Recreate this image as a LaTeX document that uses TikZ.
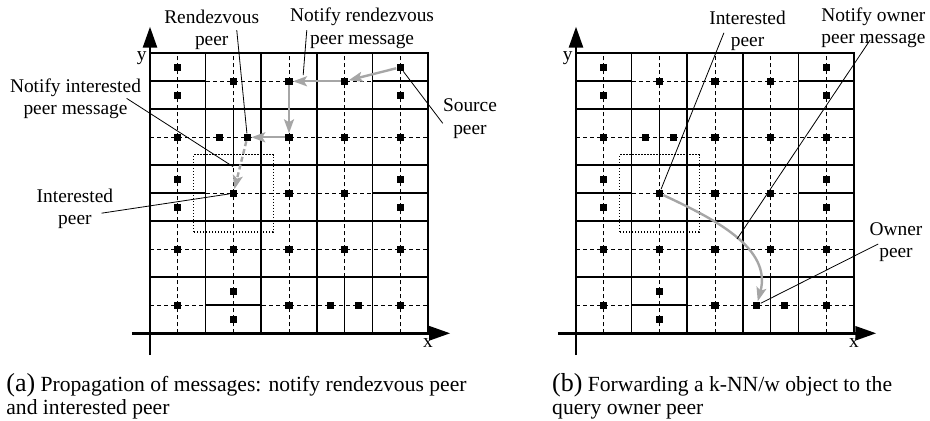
\documentclass[tikz,border=0pt]{standalone}
\usepackage{fontspec}
\setmainfont{Liberation Serif}
\usetikzlibrary{arrows.meta}

% one CAN-like key space: zones, midlines, query window, axes and peers
% #1 = prefix for the peer names
\newcommand{\zonegrid}[1]{%
  % midlines through every zone
  \foreach \m in {1,3,...,9} {
    \draw[midline] (\m,0) -- (\m,10);
    \draw[midline] (0,\m) -- (10,\m);
  }
  % zone borders
  \draw[zone] (0,10) -- (10,10) -- (10,0);
  \foreach \m in {2,4,6,8} {
    \draw[zone] (\m,0) -- (\m,10);
    \draw[zone] (0,\m) -- (10,\m);
  }
  % zones that were split in two
  \draw[zone] (0,9) -- (2,9) (8,9) -- (10,9) (3,6) -- (3,8)
    (0,5) -- (2,5) (8,5) -- (10,5) (2,1) -- (4,1) (7,0) -- (7,2);
  % query window
  \draw[window] (1.57,3.62) rectangle (4.43,6.38);
  % axes
  \draw[axis] (0,-0.78) -- (0,10.95);
  \draw[axis] (-0.65,0) -- (10.8,0);
  \node[anchor=base] (#1ylbl) at (-0.3,9.73) {y};
  \node[anchor=base] (#1xlbl) at (10,-0.5) {x};
  % peers, one per zone
  \foreach \n/\x/\y in {a1/1/9.5, a2/1/8.5, a3/3/9, a4/5/9, a5/7/9, a6/9/9.5, a7/9/8.5,
      b1/1/7, b2/2.5/7, b3/3.5/7, b4/5/7, b5/7/7, b6/9/7,
      c1/1/5.5, c2/1/4.5, c3/3/5, c4/5/5, c5/7/5, c6/9/5.5, c7/9/4.5,
      d1/1/3, d2/3/3, d3/5/3, d4/7/3, d5/9/3,
      e1/1/1, e2/3/1.5, e3/3/0.5, e4/5/1, e5/6.5/1, e6/7.5/1, e7/9/1}
    \node[peer] (#1\n) at (\x,\y) {};
}

\begin{document}
\begin{tikzpicture}[
    x=13.9pt, y=14pt,
    font=\fontsize{9.7}{11.2}\selectfont,
    zone/.style={line width=0.8pt},
    midline/.style={line width=0.45pt, dash pattern=on 2pt off 1.5pt},
    window/.style={line width=0.6pt, dash pattern=on 0.7pt off 0.8pt},
    axis/.style={line width=1.3pt, -{Triangle[length=10.5pt,width=7pt]}},
    peer/.style={rectangle, fill=black, inner sep=0pt, minimum size=3.6pt},
    msg/.style={draw=black!35, line width=1.2pt,
        -{Stealth[length=7pt,width=5pt,inset=1.5pt]}},
    leader/.style={line width=0.4pt},
    tag/.style={align=center, anchor=north, inner sep=0pt},
    caption/.style={align=left, anchor=north west, inner sep=0pt,
        font=\fontsize{10.8}{11.5}\selectfont}
]
\useasboundingbox (-75pt,-43.85pt) rectangle (390pt,166.65pt);

% ---------------- (a) notify rendezvous / interested peer ----------------
\zonegrid{L-}

\draw[msg] (L-a6) -- (L-a5);
\draw[msg] (L-a5) -- (L-a4);
\draw[msg] (L-a4) -- (L-b4);
\draw[msg] (L-b4) -- (L-b3);
\draw[msg, dash pattern=on 2.5pt off 1.5pt] (L-b3) -- (L-c3);

\node[tag] (rdv_lbl) at (2.22,11.565) {Rendezvous\\peer};
\node[tag] (notify_rdv_lbl) at (7.63,11.625) {Notify rendezvous\\peer message};
\node[tag] (src_lbl) at (11.51,8.386) {Source\\peer};
\node[tag] (notify_int_lbl) at (-2.68,9.107) {Notify interested\\peer message};
\node[tag] (int_lbl) at (-2.70,5.171) {Interested\\peer};

\coordinate (rdv_tail) at (3.12,10.83);
\coordinate (notify_rdv_tail) at (5.64,10.83);
\coordinate (notify_rdv_head) at (5.51,9.22);
\coordinate (src_tail) at (10.53,7.5);
\coordinate (notify_int_tail) at (-0.84,8.39);
\coordinate (notify_int_head) at (2.99,5.95);
\coordinate (int_tail) at (-1.74,4.29);

\draw[leader] (rdv_tail) -- (L-b3);
\draw[leader] (notify_rdv_tail) -- (notify_rdv_head);
\draw[leader] (L-a6) -- (src_tail);
\draw[leader] (notify_int_tail) -- (notify_int_head);
\draw[leader] (int_tail) -- (L-c3);

\node[caption] (cap_a) at (-5.18,-1.418)
    {{\fontsize{13}{11.5}\selectfont (a)} Propagation of messages: notify rendezvous peer\\and interested peer};

% ---------------- (b) forwarding to the owner peer ----------------
\begin{scope}[xshift=213pt]
\zonegrid{R-}

\draw[msg] (R-c3) to[out=-25,in=75] coordinate[pos=0.52] (fwd_mid) (R-e5);

\node[tag] (int_lbl_b) at (6.17,11.536) {Interested\\peer};
\node[tag] (notify_own_lbl) at (10.70,11.636) {Notify owner\\peer message};
\node[tag] (own_lbl) at (11.51,3.98) {Owner\\peer};

\coordinate (int_tail_b) at (5.32,10.73);
\coordinate (notify_own_tail) at (10.58,10.475);
\coordinate (own_tail) at (10.87,3.19);

\draw[leader] (int_tail_b) -- (R-c3);
\draw[leader] (notify_own_tail) -- (fwd_mid);
\draw[leader] (own_tail) -- (R-e5);

\node[caption] (cap_b) at (-0.87,-1.418)
    {{\fontsize{13}{11.5}\selectfont (b)} Forwarding a k-NN/w object to the\\query owner peer};
\end{scope}
\end{tikzpicture}
\end{document}
